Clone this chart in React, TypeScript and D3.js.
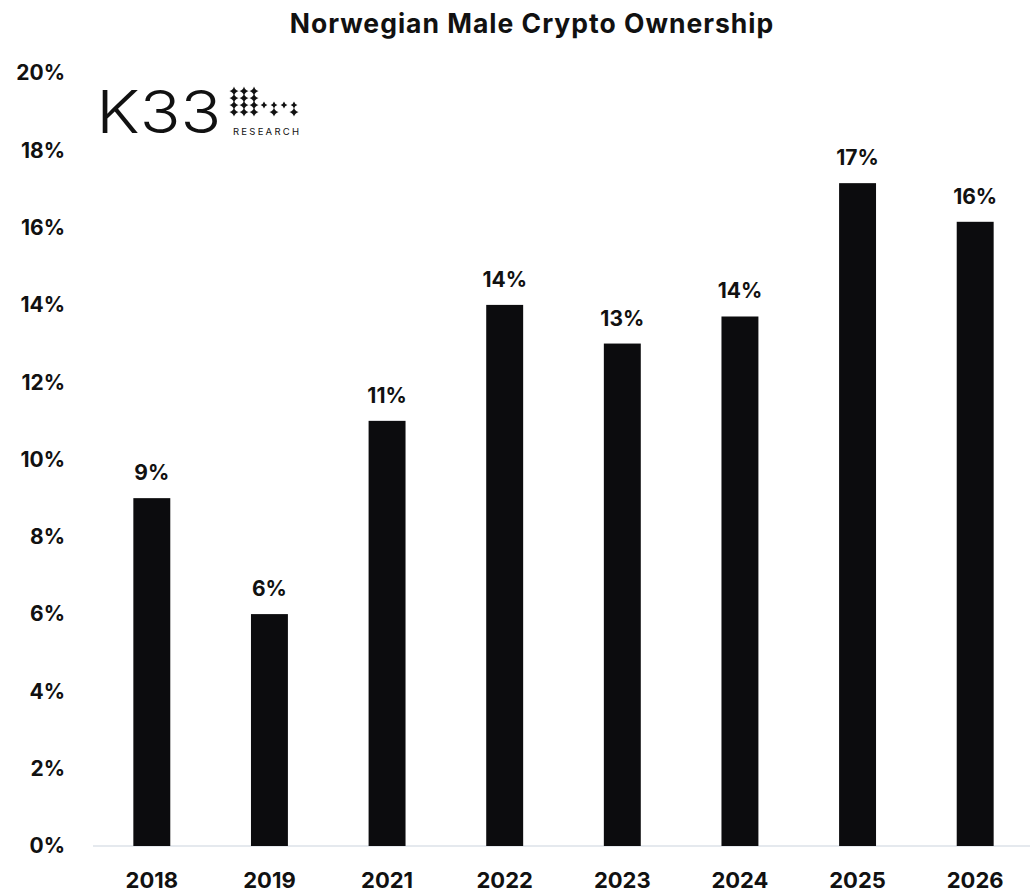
import { useEffect, useRef } from 'react';
import * as d3 from 'd3';

// values
const years = ['2018', '2019', '2021', '2022', '2023', '2024', '2025', '2026'];
const ownership = [9, 6, 11, 14, 13, 13.7, 17.15, 16.15];
const yTicks = [0, 2, 4, 6, 8, 10, 12, 14, 16, 18, 20];

const FONT = 'Inter, "Noto Sans", sans-serif';

const App = () => {
  const svgRef = useRef<SVGSVGElement>(null);

  useEffect(() => {
    if (!svgRef.current) return;
    const root = d3.select(svgRef.current);
    root.selectAll('*').remove();

    const width = 1030;
    const height = 893;
    root.attr('width', width).attr('height', height);

    const x = d3
      .scaleBand()
      .domain(years)
      .range([93, 1034])
      .paddingInner(0.686)
      .paddingOuter(0.343);

    const y = d3.scaleLinear().domain([0, 20]).range([846, 73]);

    // title
    root
      .append('text')
      .attr('x', 532)
      .attr('y', 33)
      .attr('text-anchor', 'middle')
      .attr('font-family', FONT)
      .attr('font-weight', 700)
      .attr('font-size', 26.5)
      .attr('letter-spacing', 1)
      .attr('fill', '#111')
      .text('Norwegian Male Crypto Ownership');

    // y tick labels (no grid)
    root
      .selectAll('.ytick')
      .data(yTicks)
      .enter()
      .append('text')
      .attr('class', 'ytick')
      .attr('x', 65)
      .attr('y', (d) => y(d))
      .attr('dy', '0.35em')
      .attr('text-anchor', 'end')
      .attr('font-family', FONT)
      .attr('font-weight', 700)
      .attr('font-size', 21)
      .attr('fill', '#111')
      .text((d) => `${d}%`);

    // baseline
    root
      .append('line')
      .attr('x1', 93)
      .attr('x2', width)
      .attr('y1', y(0))
      .attr('y2', y(0))
      .attr('stroke', '#dde2e8')
      .attr('stroke-width', 1.5);

    // bars
    root
      .selectAll('.bar')
      .data(years)
      .enter()
      .append('rect')
      .attr('class', 'bar')
      .attr('x', (d) => x(d)!)
      .attr('width', x.bandwidth())
      .attr('y', (_, i) => y(ownership[i]))
      .attr('height', (_, i) => y(0) - y(ownership[i]))
      .attr('fill', '#0c0c0e');

    // value labels
    root
      .selectAll('.val')
      .data(years)
      .enter()
      .append('text')
      .attr('class', 'val')
      .attr('x', (d) => x(d)! + x.bandwidth() / 2)
      .attr('y', (_, i) => y(ownership[i]) - 18)
      .attr('text-anchor', 'middle')
      .attr('font-family', FONT)
      .attr('font-weight', 700)
      .attr('font-size', 21)
      .attr('fill', '#111')
      .text((_, i) => `${Math.round(ownership[i])}%`);

    // x labels
    root
      .selectAll('.xlab')
      .data(years)
      .enter()
      .append('text')
      .attr('class', 'xlab')
      .attr('x', (d) => x(d)! + x.bandwidth() / 2)
      .attr('y', 888)
      .attr('text-anchor', 'middle')
      .attr('font-family', FONT)
      .attr('font-weight', 700)
      .attr('font-size', 22)
      .attr('fill', '#111')
      .text((d) => d);

    // K33 Research logo
    const logo = root.append('g').attr('transform', 'translate(95,133)');
    logo
      .append('text')
      .attr('transform', 'scale(1.14,1)')
      .attr('x', 1)
      .attr('y', 0)
      .attr('font-family', FONT)
      .attr('font-weight', 300)
      .attr('font-size', 59)
      .attr('fill', '#111')
      .text('K33');
    logo
      .append('text')
      .attr('x', 138)
      .attr('y', 2)
      .attr('font-family', FONT)
      .attr('font-size', 9.5)
      .attr('textLength', 66)
      .attr('lengthAdjust', 'spacing')
      .attr('fill', '#111')
      .text('RESEARCH');

    // star grid of the logo mark
    const cols = [139, 149, 159, 169, 179, 189, 199];
    const rows = [-42, -35, -28, -21];
    const stars: [number, number, number][] = [];
    rows.forEach((ry, ri) =>
      cols.forEach((cx, ci) => {
        if (ci < 3) stars.push([cx, ry, 4.6]);
        else if (ri === 2) stars.push([cx, ry, 3.4]);
        else if (ri === 3 && (ci === 4 || ci === 6)) stars.push([cx, ry, 4.6]);
      })
    );
    const star = (r: number) => {
      const c = r * 0.22;
      return `M0,${-r}Q${c},${-c} ${r},0Q${c},${c} 0,${r}Q${-c},${c} ${-r},0Q${-c},${-c} 0,${-r}Z`;
    };
    logo
      .selectAll('.star')
      .data(stars)
      .enter()
      .append('path')
      .attr('class', 'star')
      .attr('transform', (d) => `translate(${d[0]},${d[1]})`)
      .attr('d', (d) => star(d[2]))
      .attr('fill', '#111');
  }, []);

  return <svg ref={svgRef} style={{ display: 'block', position: 'absolute', left: 0, top: 0 }}></svg>;
};

export default App;
